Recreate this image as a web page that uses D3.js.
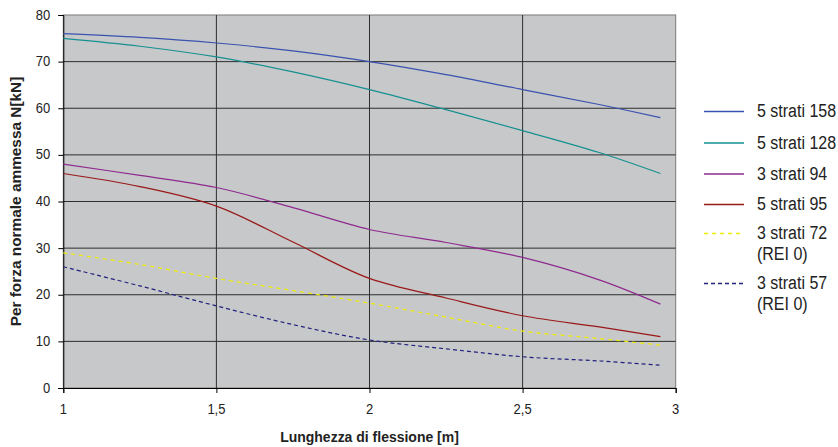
<!DOCTYPE html>
<html>
<head>
<meta charset="utf-8">
<script src="https://cdn.jsdelivr.net/npm/d3@7/dist/d3.min.js"></script>
<style>
  html, body { margin: 0; padding: 0; background: #ffffff; }
  svg { display: block; font-family: "Liberation Sans", Arial, sans-serif; }
</style>
</head>
<body>
<svg id="chart" width="838" height="447"></svg>
<script>
// ---- data ----
const lengths = [1, 1.25, 1.5, 1.75, 2, 2.25, 2.5, 2.75, 2.95];
const s158 = [76, 75.2, 74, 72.3, 70, 67.2, 64, 60.8, 58];
const s128 = [75, 73.3, 71, 67.8, 64, 59.7, 55.2, 50.5, 46];
const s94  = [48, 45.6, 43, 38.7, 34, 31.2, 28, 23.2, 18];
const s95  = [46, 43.2, 39, 31.3, 23.5, 19.3, 15.5, 13.1, 11];
const s72  = [29, 26.5, 23.5, 20.9, 18.2, 15.2, 12.2, 10.6, 9.2];
const s57  = [26, 21.9, 17.6, 13.6, 10.3, 8.4, 6.7, 5.8, 4.9];
const seriesNames = ["5 strati 158", "5 strati 128", "3 strati 94", "5 strati 95", "3 strati 72\n(REI 0)", "3 strati 57\n(REI 0)"];
const xTicks = [1, 1.5, 2, 2.5, 3];
const xTickLabels = ["1", "1,5", "2", "2,5", "3"];
const yTicks = [0, 10, 20, 30, 40, 50, 60, 70, 80];
const xTitle = "Lunghezza di flessione [m]";
const yTitle = "Per forza normale ammessa N[kN]";

const allSeries = [s158, s128, s94, s95, s72, s57];
const styles = [
  {color: "#3a52b0", dash: null},
  {color: "#169090", dash: null},
  {color: "#8e2a8e", dash: null},
  {color: "#9a1818", dash: null},
  {color: "#f0ee00", dash: "4,4"},
  {color: "#22227e", dash: "4,3"}
];

// ---- layout ----
const svg = d3.select("#chart");
const L = 63.3, R = 675.7, T = 15, B = 388;
const TS = 1.1; // vertical text stretch
const x = d3.scaleLinear().domain([1, 3]).range([L, R]);
const y = d3.scaleLinear().domain([0, 80]).range([B, T]);

function txt(g, xx, yy, s, size, opts = {}) {
  const t = g.append("text")
    .attr("transform", `translate(${xx},${yy}) scale(1,${TS})` + (opts.rotate ? ` rotate(${opts.rotate})` : ""))
    .attr("font-size", size)
    .attr("fill", opts.fill || "#222")
    .attr("text-anchor", opts.anchor || "start")
    .text(s);
  if (opts.bold) t.attr("font-weight", "bold");
  return t;
}

// plot area
svg.append("rect").attr("x", L).attr("y", T).attr("width", R - L).attr("height", B - T)
  .attr("fill", "#c7c8ca").attr("stroke", "#7a7a7a").attr("stroke-width", 1);

// gridlines
const grid = svg.append("g");
yTicks.filter(v => v > 0 && v < 80).forEach(v => {
  grid.append("line").attr("x1", L).attr("x2", R).attr("y1", y(v)).attr("y2", y(v))
    .attr("stroke", "#2e2e2e").attr("stroke-width", 1);
});
xTicks.filter(v => v > 1 && v < 3).forEach(v => {
  grid.append("line").attr("x1", x(v)).attr("x2", x(v)).attr("y1", T).attr("y2", B)
    .attr("stroke", "#2e2e2e").attr("stroke-width", 1);
});

// axes
const yAxis = d3.axisLeft(y).tickValues(yTicks).tickSize(5).tickFormat("");
const yg = svg.append("g").attr("transform", `translate(${L},0)`).call(yAxis);
yg.selectAll("path,line").attr("stroke", "#000");
const xAxis = d3.axisBottom(x).tickValues(xTicks).tickSize(5).tickFormat("");
const xg = svg.append("g").attr("transform", `translate(0,${B})`).call(xAxis);
xg.selectAll("path,line").attr("stroke", "#000");

const labels = svg.append("g");
yTicks.forEach(v => txt(labels, L - 13, y(v) + 4.6, String(v), 13, {anchor: "end"}));
xTicks.forEach((v, i) => txt(labels, x(v), B + 25.5, xTickLabels[i], 13, {anchor: "middle"}));

// axis titles
txt(svg, (L + R) / 2, 442, xTitle, 14, {anchor: "middle", bold: true});
txt(svg, 21, (T + B) / 2, yTitle, 14, {anchor: "middle", bold: true, rotate: -90});

// lines
const line = d3.line().x(d => x(d[0])).y(d => y(d[1])).curve(d3.curveCatmullRom.alpha(0.5));
allSeries.forEach((vals, i) => {
  const pts = lengths.map((l, j) => [l, vals[j]]);
  const p = svg.append("path").datum(pts).attr("d", line)
    .attr("fill", "none").attr("stroke", styles[i].color).attr("stroke-width", 1.2);
  if (styles[i].dash) p.attr("stroke-dasharray", styles[i].dash);
});

// legend
const legY = [111, 142.5, 173.5, 204, 233, 283];
const leg = svg.append("g");
seriesNames.forEach((name, i) => {
  leg.append("line").attr("x1", 704).attr("x2", 744).attr("y1", legY[i] + 0.5).attr("y2", legY[i] + 0.5)
    .attr("stroke", styles[i].color).attr("stroke-width", 1.3)
    .attr("stroke-dasharray", styles[i].dash);
  name.split("\n").forEach((part, k) => {
    txt(leg, 757, legY[i] + 6 + k * 20.5, part, 16);
  });
});
</script>
</body>
</html>
